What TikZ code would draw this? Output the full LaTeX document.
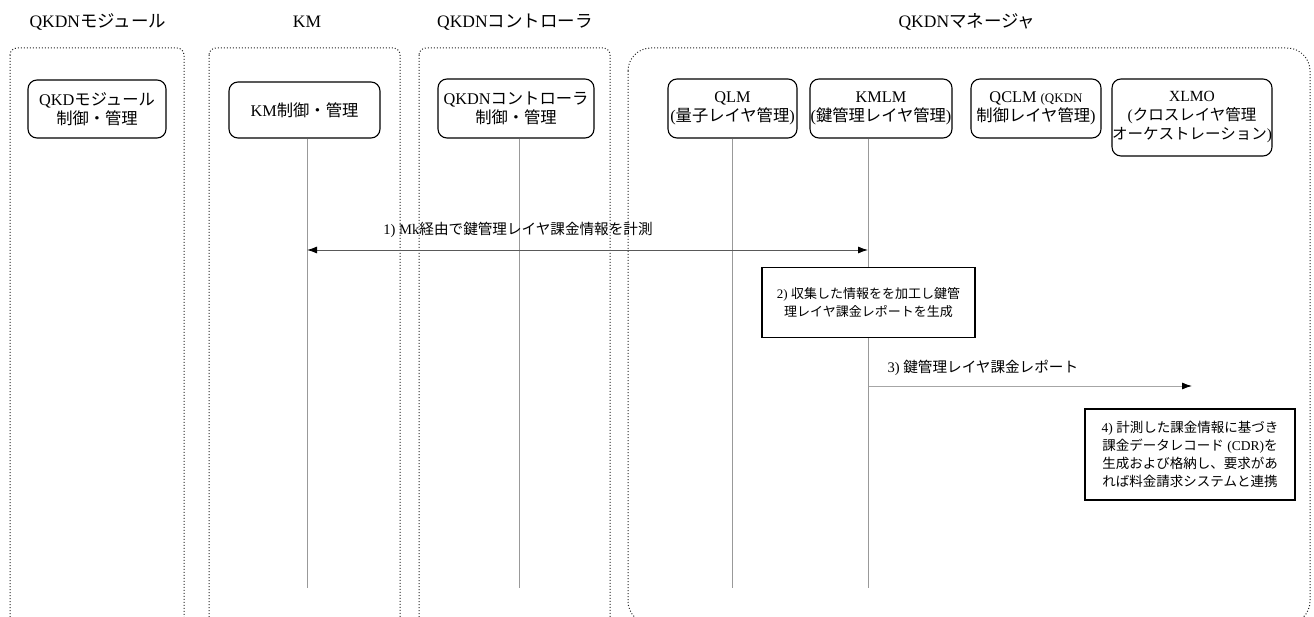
\documentclass[tikz,border=0pt]{standalone}
\usepackage{fontspec}
\setmainfont{Liberation Serif}
\newfontfamily\jpfont{Noto Sans CJK JP}
\newcommand{\jp}[1]{{\jpfont #1}}
\usetikzlibrary{arrows.meta}

\begin{document}
\begin{tikzpicture}[x=1pt,y=1pt,yscale=-1,
  group/.style={draw=black!85, dotted, line width=1pt},
  hdr/.style={font=\fontsize{17.5}{20}\selectfont},
  comp/.style={draw, line width=1.1pt, rounded corners=9pt, align=center, inner sep=0pt,
    font=\fontsize{16.3}{19.5}\selectfont},
  life/.style={draw=black!40, line width=0.9pt},
  msg/.style={draw=black!65, line width=0.9pt},
  tip/.style={arrows={-{Latex[length=10pt,width=7pt,color=black]}}},
  note/.style={draw, line width=1.1pt, align=center, inner sep=0pt,
    font=\fontsize{13}{18}\selectfont},
  lbl/.style={font=\fontsize{14.6}{17}\selectfont}
]
\useasboundingbox (0,0) rectangle (1314,617);
\clip (0,0) rectangle (1314,617);

% group frames
\draw[group, rounded corners=7pt] (10,48) rectangle (184,680);
\draw[group, rounded corners=7pt] (209,48) rectangle (400,680);
\draw[group, rounded corners=7pt] (419,48) rectangle (610,680);
\draw[group, rounded corners=23pt] (628,48) rectangle (1310,624);

% group titles
\node[hdr] (tmod) at (98,22) {QKDN\jp{モジュール}};
\node[hdr] (tkm) at (307,22) {KM};
\node[hdr] (tctl) at (515,22) {QKDN\jp{コントローラ}};
\node[hdr] (tmgr) at (967,22) {QKDN\jp{マネージャ}};

% components
\node[comp, minimum width=138, minimum height=58] (mod) at (97,109)
  {QKD\jp{モジュール}\\\jp{制御・管理}};
\node[comp, minimum width=151, minimum height=56] (kmc) at (304.5,110)
  {KM\jp{制御・管理}};
\node[comp, minimum width=156, minimum height=59] (ctl) at (516,108.5)
  {QKDN\jp{コントローラ}\\\jp{制御・管理}};
\node[comp, minimum width=129, minimum height=59] (qlm) at (732.5,108.5)
  {QLM\\(\jp{量子レイヤ管理})};
\node[comp, minimum width=142, minimum height=59] (kmlm) at (881,108.5)
  {KMLM\\(\jp{鍵管理レイヤ管理})};
\node[comp, minimum width=130, minimum height=59] (qclm) at (1036,108.5)
  {QCLM {\fontsize{13}{16}\selectfont(QKDN}\\\jp{制御レイヤ管理})};
\node[comp, minimum width=160, minimum height=77, font=\fontsize{15.5}{19}\selectfont] (xlmo) at (1192,117.5)
  {XLMO\\(\jp{クロスレイヤ管理}\\\jp{オーケストレーション})};

% lifelines
\coordinate (kmend) at (307,588);
\coordinate (ctlend) at (519,588);
\coordinate (qlmend) at (732,588);
\coordinate (kmlmend) at (868,588);
\draw[life] (kmc.south -| kmend) -- (kmend);
\draw[life] (ctl.south -| ctlend) -- (ctlend);
\draw[life] (qlm.south -| qlmend) -- (qlmend);
\draw[life] (kmlm.south -| kmlmend) -- (kmlmend);

% 1) measuring
\coordinate (m1a) at (307,250);
\coordinate (m1b) at (868,250);
\draw[msg, arrows={{Latex[length=10pt,width=7pt,color=black]}-{Latex[length=10pt,width=7pt,color=black]}}] (m1a) -- (m1b);
\node[lbl] (l1) at (518,230) {1) Mk\jp{経由で鍵管理レイヤ課金情報を計測}};

% 2) report generation
\node[note, fill=white, minimum width=213, minimum height=70] (gen) at (868.5,302.5)
  {2) \jp{収集した情報をを加工し鍵管}\\\jp{理レイヤ課金レポートを生成}};

% 3) report
\coordinate (m3a) at (869,386);
\coordinate (m3b) at (1192,386);
\draw[msg, draw=black!35, tip] (m3a) -- (m3b);
\node[lbl, anchor=west] (l3) at (884,368) {3) \jp{鍵管理レイヤ課金レポート}};

% 4) CDR
\node[note, minimum width=210, minimum height=91, font=\fontsize{13.5}{18}\selectfont] (cdr) at (1190,454.5)
  {4) \jp{計測した課金情報に基づき}\\\jp{課金データレコード} (CDR)\jp{を}\\\jp{生成および格納し、要求があ}\\\jp{れば料金請求システムと連携}};

\end{tikzpicture}
\end{document}
